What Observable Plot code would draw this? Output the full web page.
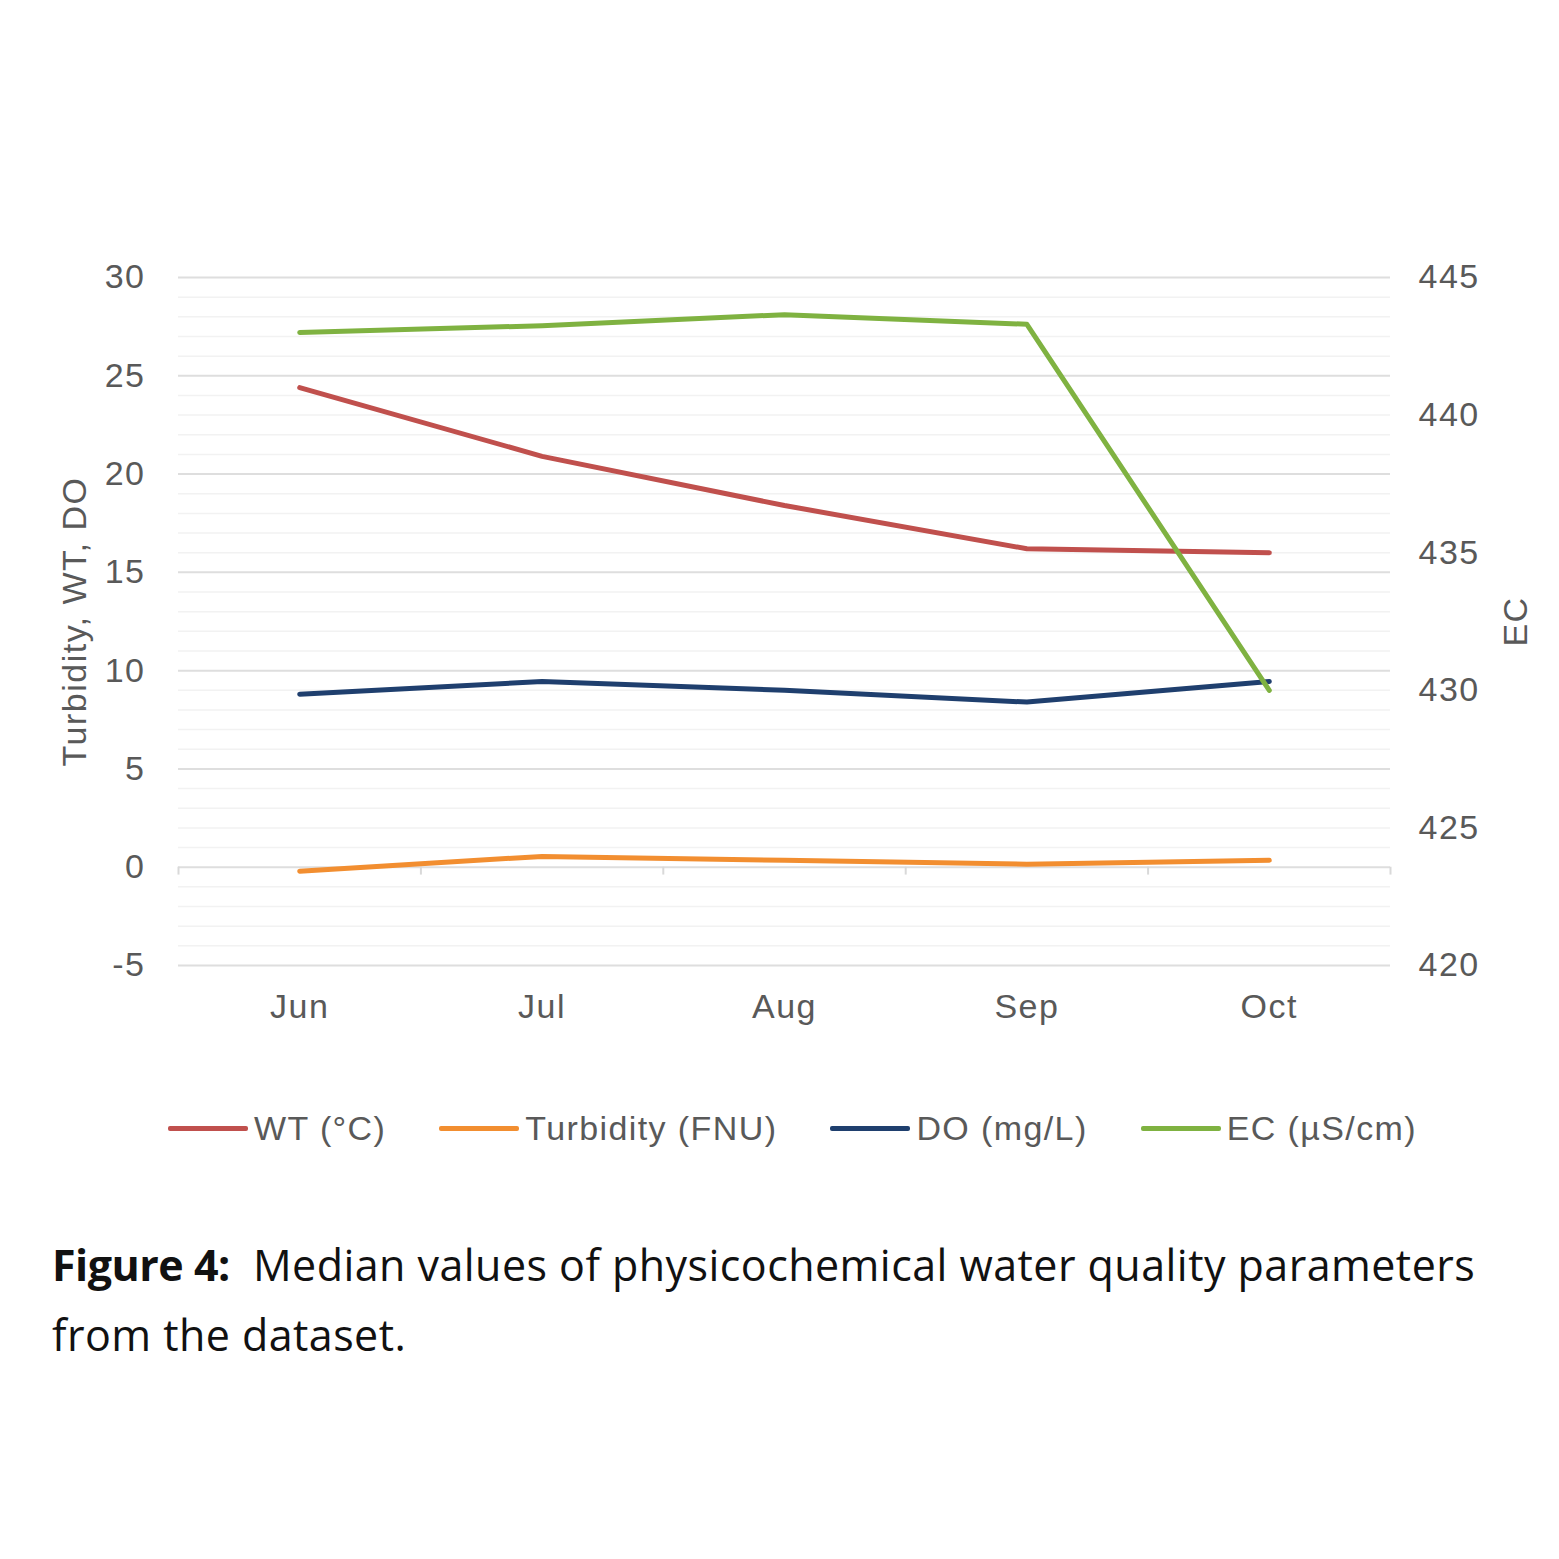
<!DOCTYPE html>
<html>
<head>
<meta charset="utf-8">
<script src="https://cdn.jsdelivr.net/npm/d3@7"></script>
<script src="https://cdn.jsdelivr.net/npm/@observablehq/plot@0.6"></script>
<style>
  html, body { margin: 0; padding: 0; background: #fff; }
  #wrap { width: 1559px; }
  .legend { display: flex; align-items: center; margin-left: 168px; margin-top: 48px; height: 40px;
    font-family: "Liberation Sans", Arial, sans-serif; font-size: 34px; letter-spacing: 1.4px; color: #595959; }
  .item { display: flex; align-items: center; margin-right: 53px; }
  .sw { width: 80px; height: 5px; margin-right: 6px; border-radius: 2px; }
  .caption { margin: 82px 0 0 52px; font-family: "Open Sans", "Noto Sans", sans-serif; font-size: 43px;
    line-height: 70px; color: #111; letter-spacing: 0.45px; }
  .caption b { font-weight: 700; letter-spacing: -0.5px; }
</style>
</head>
<body>
<div id="wrap"></div>
<script>
const months = ["Jun", "Jul", "Aug", "Sep", "Oct"];
const seriesNames = ["WT (°C)", "Turbidity (FNU)", "DO (mg/L)", "EC (µS/cm)"];
const seriesColors = ["#c0504d", "#f28e30", "#1f3f6e", "#7fb241"];
const wt = [24.4, 20.9, 18.4, 16.2, 16.0];
const turbidity = [-0.2, 0.55, 0.35, 0.15, 0.35];
const dissolvedOxygen = [8.8, 9.45, 9.0, 8.4, 9.45];
const ec = [443.0, 443.25, 443.65, 443.3, 430.0];
const leftTicks = [-5, 0, 5, 10, 15, 20, 25, 30];
const rightTicks = [420, 425, 430, 435, 440, 445];
const leftTitle = "Turbidity, WT, DO";
const rightTitle = "EC";

// map EC (secondary axis 420–445) onto primary axis (-5–30)
const toLeft = v => -5 + (v - 420) * 35 / 25;
const toRight = v => (v + 5) * 25 / 35 + 420;

const rows = [];
months.forEach((m, i) => {
  rows.push({ i, series: seriesNames[0], value: wt[i] });
  rows.push({ i, series: seriesNames[1], value: turbidity[i] });
  rows.push({ i, series: seriesNames[2], value: dissolvedOxygen[i] });
  rows.push({ i, series: seriesNames[3], value: toLeft(ec[i]) });
});

const minor = d3.range(-5, 31, 1).filter(v => v % 5 !== 0);
const boundaries = d3.range(-0.5, months.length, 1);

const chart = Plot.plot({
  width: 1559,
  height: 1060,
  marginTop: 277,
  marginBottom: 95,
  marginLeft: 178,
  marginRight: 169,
  style: { fontFamily: "Liberation Sans, Arial, sans-serif", fontSize: "34px", letterSpacing: "1.5px", color: "#595959", background: "#fff" },
  x: { type: "linear", domain: [-0.5, months.length - 0.5] },
  y: { domain: [-5, 30] },
  color: { domain: seriesNames, range: seriesColors },
  marks: [
    Plot.ruleY(minor, { stroke: "#f2f2f2", strokeWidth: 1.5 }),
    Plot.ruleY(leftTicks, { stroke: "#dedede", strokeWidth: 2 }),
    Plot.ruleX(boundaries, { y1: 0, y2: -0.4, stroke: "#d9d9d9", strokeWidth: 2 }),
    Plot.axisY({ ticks: leftTicks, tickSize: 0, tickPadding: 33, tickFormat: d => String(d), label: null }),
    Plot.axisY({ anchor: "right", ticks: rightTicks.map(toLeft), tickSize: 0, tickPadding: 28,
      tickFormat: v => String(Math.round(toRight(v))), label: null }),
    Plot.axisX({ ticks: d3.range(months.length), tickSize: 0, tickPadding: 28,
      tickFormat: i => months[i], label: null }),
    Plot.text([leftTitle], { frameAnchor: "left", text: d => d, rotate: -90, dx: -103,
      textAnchor: "middle", lineAnchor: "middle", fill: "#595959" }),
    Plot.text([rightTitle], { frameAnchor: "right", text: d => d, rotate: -90, dx: 126,
      textAnchor: "middle", lineAnchor: "middle", fill: "#595959" }),
    Plot.line(rows, { x: "i", y: "value", z: "series", stroke: "series", strokeWidth: 5 })
  ]
});
document.getElementById("wrap").appendChild(chart);

const legend = document.createElement("div");
legend.className = "legend";
seriesNames.forEach((name, k) => {
  const item = document.createElement("div");
  item.className = "item";
  const sw = document.createElement("span");
  sw.className = "sw";
  sw.style.background = seriesColors[k];
  const t = document.createElement("span");
  t.textContent = name;
  item.appendChild(sw);
  item.appendChild(t);
  legend.appendChild(item);
});
document.getElementById("wrap").appendChild(legend);

const cap = document.createElement("div");
cap.className = "caption";
cap.innerHTML = "<b>Figure 4:</b>&nbsp; Median values of physicochemical water quality parameters<br>from the dataset.";
document.getElementById("wrap").appendChild(cap);
</script>
</body>
</html>
